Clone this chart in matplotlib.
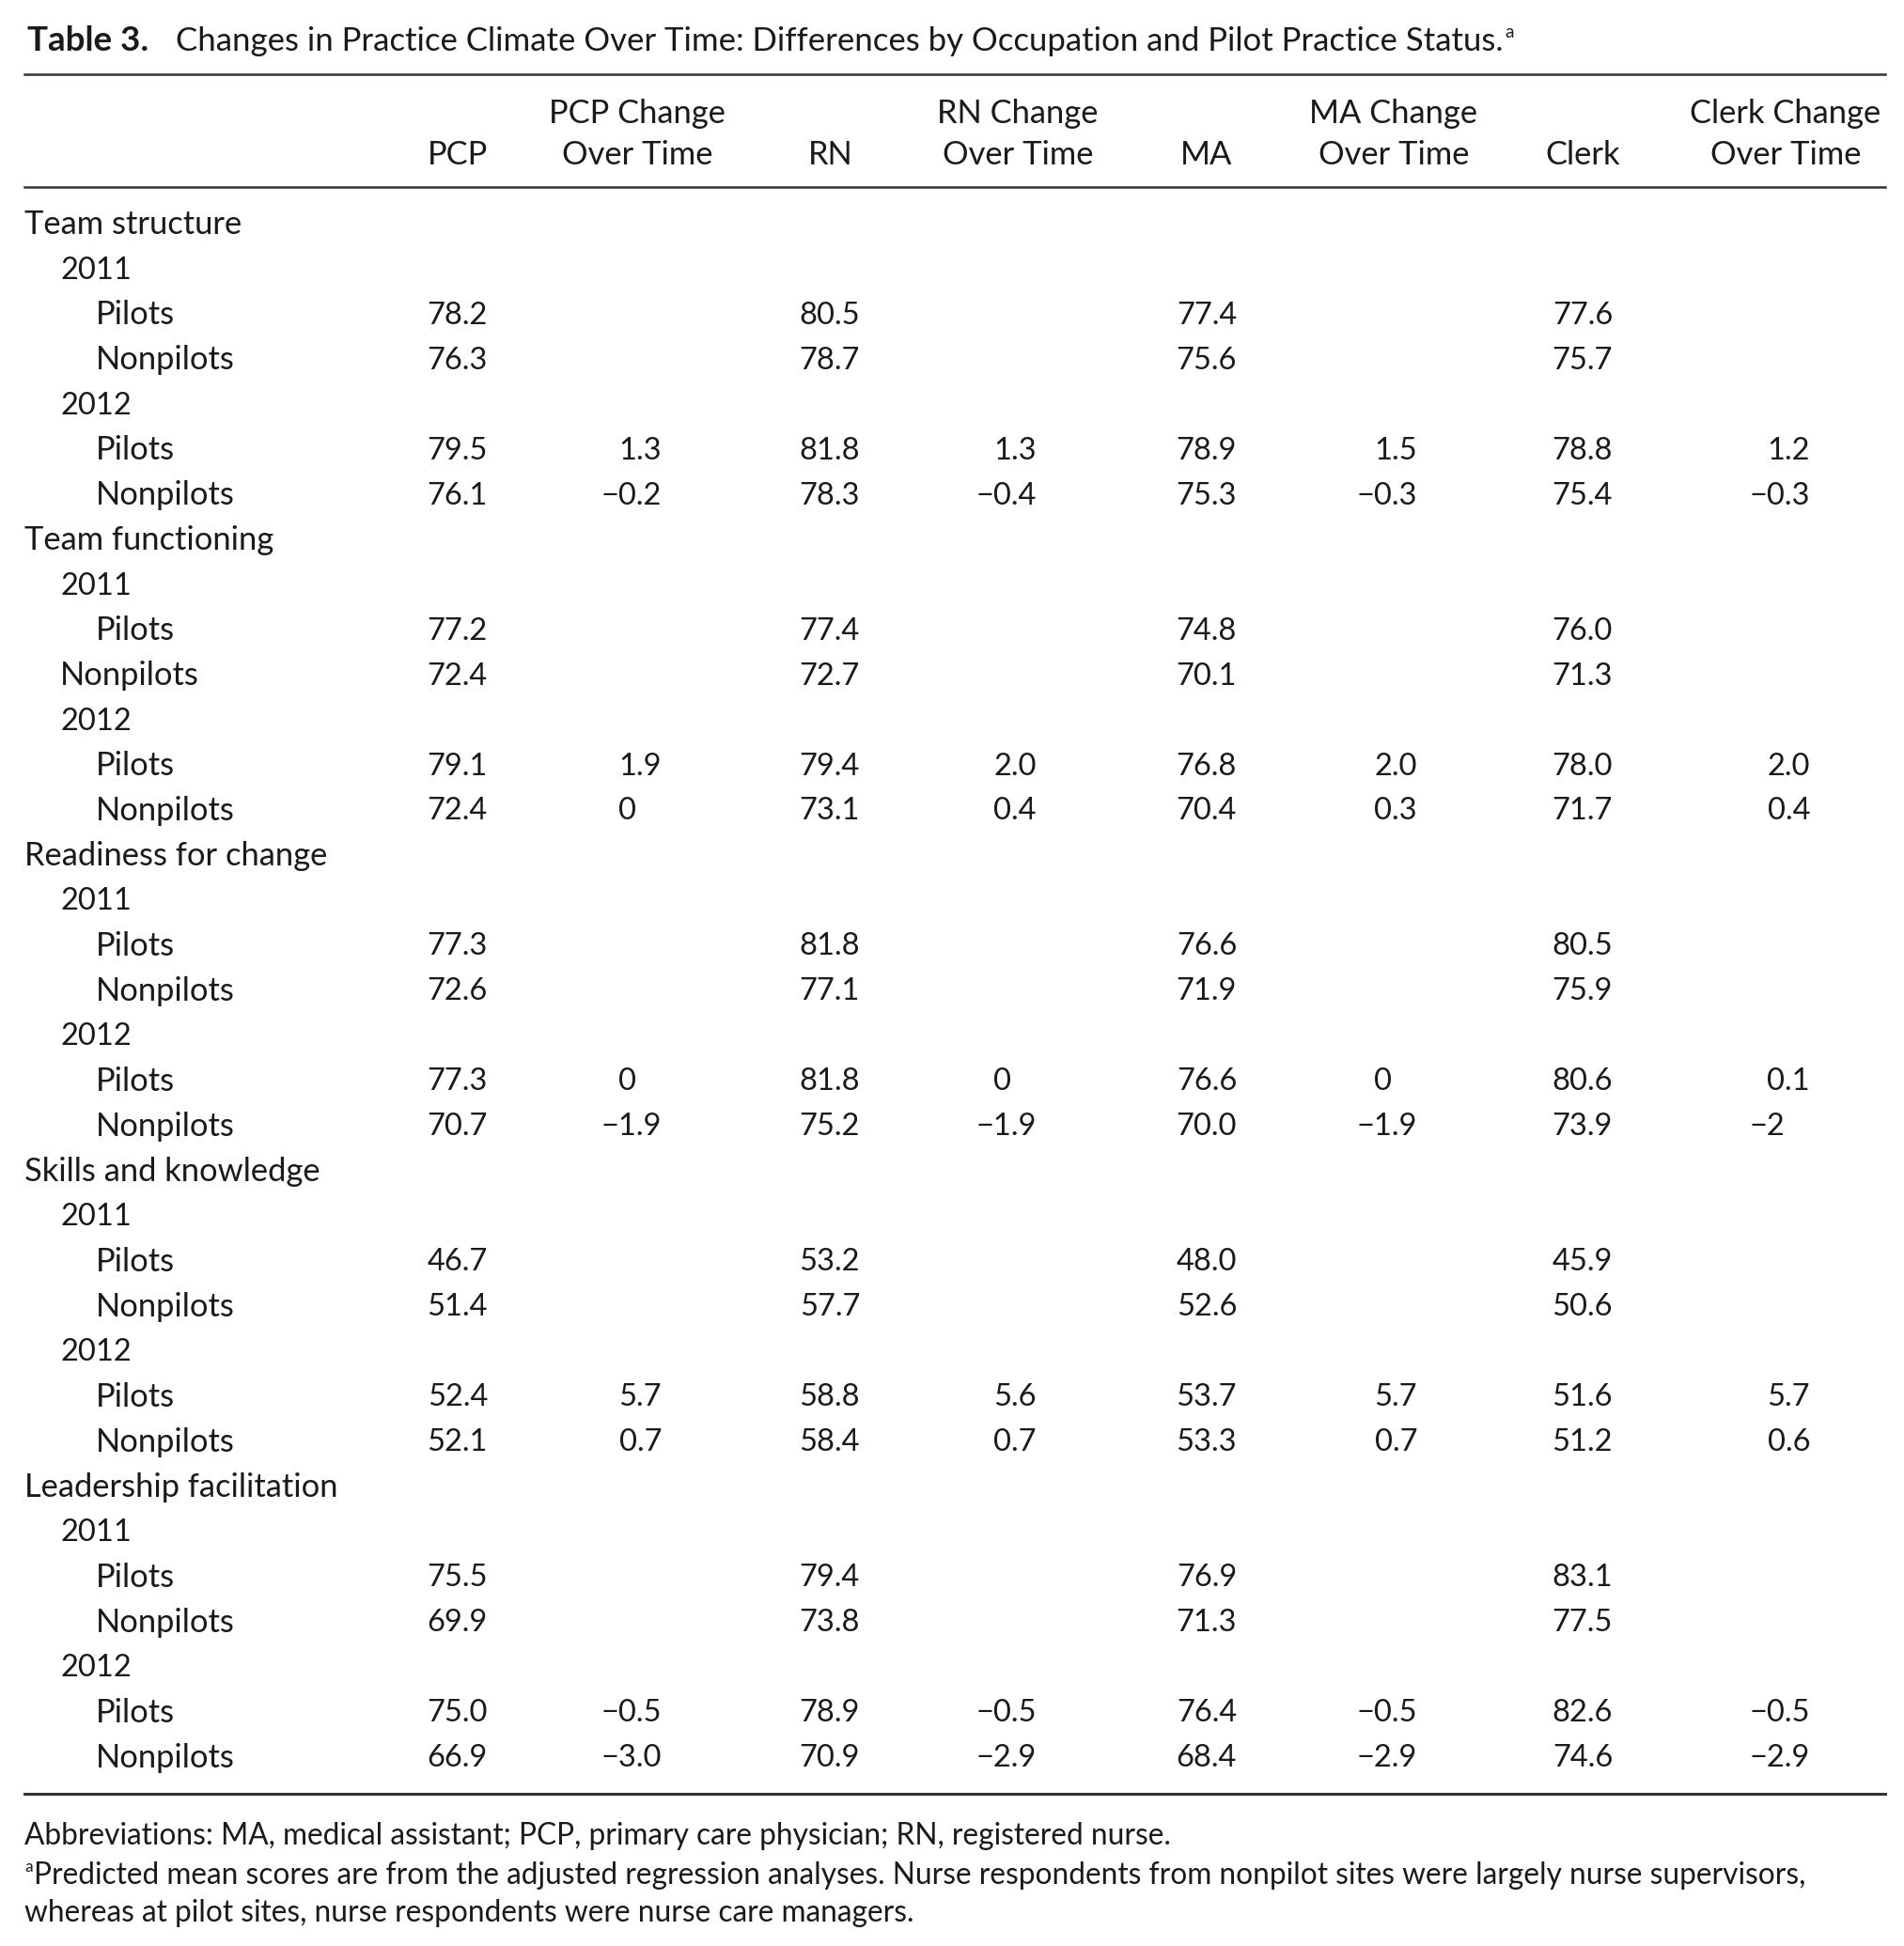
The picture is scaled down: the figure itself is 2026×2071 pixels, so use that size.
import matplotlib
matplotlib.use("Agg")
import matplotlib.pyplot as plt

plt.rcParams['font.family'] = ['Lato', 'DejaVu Sans']

# table data
sections = ["Team structure", "Team functioning", "Readiness for change",
            "Skills and knowledge", "Leadership facilitation"]
years = ["2011", "2012"]
groups = ["Pilots", "Nonpilots"]

headers_top = ["", "PCP Change", "", "RN Change", "", "MA Change", "", "Clerk Change"]
headers_bot = ["PCP", "Over Time", "RN", "Over Time", "MA", "Over Time", "Clerk", "Over Time"]

# per section: 2011 pilots, 2011 nonpilots, 2012 pilots, 2012 nonpilots
pcp = ["78.2", "76.3", "79.5", "76.1",
       "77.2", "72.4", "79.1", "72.4",
       "77.3", "72.6", "77.3", "70.7",
       "46.7", "51.4", "52.4", "52.1",
       "75.5", "69.9", "75.0", "66.9"]
rn = ["80.5", "78.7", "81.8", "78.3",
      "77.4", "72.7", "79.4", "73.1",
      "81.8", "77.1", "81.8", "75.2",
      "53.2", "57.7", "58.8", "58.4",
      "79.4", "73.8", "78.9", "70.9"]
ma = ["77.4", "75.6", "78.9", "75.3",
      "74.8", "70.1", "76.8", "70.4",
      "76.6", "71.9", "76.6", "70.0",
      "48.0", "52.6", "53.7", "53.3",
      "76.9", "71.3", "76.4", "68.4"]
clerk = ["77.6", "75.7", "78.8", "75.4",
         "76.0", "71.3", "78.0", "71.7",
         "80.5", "75.9", "80.6", "73.9",
         "45.9", "50.6", "51.6", "51.2",
         "83.1", "77.5", "82.6", "74.6"]
# change over time: 2012 pilots, 2012 nonpilots
pcp_chg = ["1.3", "\u22120.2", "1.9", "0", "0", "\u22121.9", "5.7", "0.7", "\u22120.5", "\u22123.0"]
rn_chg = ["1.3", "\u22120.4", "2.0", "0.4", "0", "\u22121.9", "5.6", "0.7", "\u22120.5", "\u22122.9"]
ma_chg = ["1.5", "\u22120.3", "2.0", "0.3", "0", "\u22121.9", "5.7", "0.7", "\u22120.5", "\u22122.9"]
clerk_chg = ["1.2", "\u22120.3", "2.0", "0.4", "0.1", "\u22122", "5.7", "0.6", "\u22120.5", "\u22122.9"]

title_bold = "Table 3."
title_rest = "Changes in Practice Climate Over Time: Differences by Occupation and Pilot Practice Status."
foot1 = "Abbreviations: MA, medical assistant; PCP, primary care physician; RN, registered nurse."
foot2 = "Predicted mean scores are from the adjusted regression analyses. Nurse respondents from nonpilot sites were largely nurse supervisors,"
foot3 = "whereas at pilot sites, nurse respondents were nurse care managers."

# build rows: (label, indent, [8 cells])
level_cols = [pcp, rn, ma, clerk]
chg_cols = [pcp_chg, rn_chg, ma_chg, clerk_chg]
rows = []
for s, sec in enumerate(sections):
    rows.append((sec, 0, [""] * 8))
    for y, yr in enumerate(years):
        rows.append((yr, 1, [""] * 8))
        for g, grp in enumerate(groups):
            k = s * 4 + y * 2 + g
            cells = []
            for c in range(4):
                cells.append(level_cols[c][k])
                cells.append(chg_cols[c][s * 2 + g] if y == 1 else "")
            indent = 2
            if s == 1 and y == 0 and g == 1:
                indent = 1  # as printed in the source
            rows.append((grp, indent, cells))

W, H = 2026, 2071
fig = plt.figure(figsize=(W / 100, H / 100), dpi=100)
ax = fig.add_axes([0, 0, 1, 1])
ax.set_xlim(0, W)
ax.set_ylim(H, 0)
ax.axis('off')

fs = 24.8      # words
fs_num = 23.5  # numbers
fs_title = 25
fs_foot = 22.8
col = '#1a1a1a'


def off(size):
    # cap centre -> baseline, in pixels
    return 0.36 * size * 100 / 72


col_center = [487, 678, 884, 1083, 1284, 1483, 1684, 1900]
col_right = [519, 704, 915, 1103, 1316, 1508, 1716, 1926]
indent_x = [26, 64, 102]
row0, step = 237, 47.98

fig.canvas.draw()
renderer = fig.canvas.get_renderer()
t = ax.text(0, 0, ".0", fontsize=fs_num)
frac_w = t.get_window_extent(renderer).width
t.remove()

# title
ty = 42 + off(fs_title)
ax.text(29, ty, title_bold, fontsize=26.5, fontweight='bold', color=col, va='baseline')
t2 = ax.text(187, ty, title_rest, fontsize=fs_title, color=col, va='baseline')
bb2 = t2.get_window_extent(renderer)
ax.text(bb2.x1 + 2, ty - 15, "a", fontsize=fs_title * 0.55, color=col, va='baseline')

# rules
ax.plot([26, 2006], [79, 79], color='#333333', lw=1.8)
ax.plot([26, 2006], [199, 199], color='#333333', lw=1.8)
ax.plot([26, 2006], [1909, 1909], color='#333333', lw=2.2)

# header
for j in range(8):
    if headers_top[j]:
        ax.text(col_center[j], 119 + off(fs), headers_top[j], fontsize=fs, color=col,
                ha='center', va='baseline')
    ax.text(col_center[j], 163 + off(fs), headers_bot[j], fontsize=fs, color=col,
            ha='center', va='baseline')

# body
for i, (label, ind, cells) in enumerate(rows):
    yc = row0 + i * step
    lab_fs = fs_num if label.isdigit() else fs
    ax.text(indent_x[ind], yc + off(lab_fs), label, fontsize=lab_fs, color=col, va='baseline')
    for j, v in enumerate(cells):
        if not v:
            continue
        x = col_right[j] if '.' in v else col_right[j] - frac_w
        ax.text(x, yc + off(fs_num), v, fontsize=fs_num, color=col, ha='right', va='baseline')

# footnotes
ax.text(26, 1952 + off(fs_foot), foot1, fontsize=fs_foot, color=col, va='baseline')
ax.text(26, 1994 + off(fs_foot) - 13, "a", fontsize=fs_foot * 0.55, color=col, va='baseline')
ax.text(36, 1994 + off(fs_foot), foot2, fontsize=fs_foot, color=col, va='baseline')
ax.text(26, 2034 + off(fs_foot), foot3, fontsize=fs_foot, color=col, va='baseline')

fig.savefig("out.png", dpi=100, facecolor='white')
